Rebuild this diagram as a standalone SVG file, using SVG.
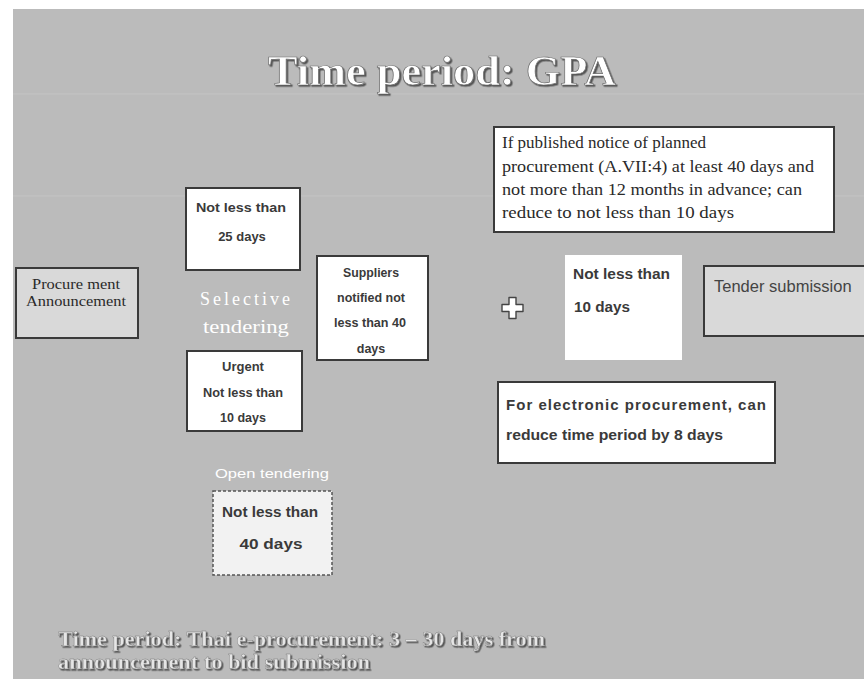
<svg xmlns="http://www.w3.org/2000/svg" width="864" height="679" viewBox="0 0 864 679">
<defs>
<filter id="sh" x="-5%" y="-20%" width="110%" height="140%">
<feDropShadow dx="1.5" dy="1.5" stdDeviation="0.6" flood-color="#4a4a4a" flood-opacity="0.9"/>
</filter>
<style>
.box{fill:#ffffff;stroke:#3a3a3a;stroke-width:2}
.gbox{fill:#d9d9d9;stroke:#3a3a3a;stroke-width:2}
.b{font-family:"Liberation Sans",Arial,sans-serif;font-weight:bold;fill:#3a3a3a}
.c{text-anchor:middle}
.s{font-family:"Liberation Serif","Times New Roman",serif;fill:#2a2a2a}
.w{font-family:"Liberation Serif","Times New Roman",serif;fill:#ffffff}
.title{font-family:"Liberation Serif","Times New Roman",serif;font-weight:bold;font-size:43px;fill:#ffffff;stroke:#6a6a6a;stroke-width:0.7;text-anchor:middle}
.foot{font-family:"Liberation Serif","Times New Roman",serif;font-weight:bold;font-size:21px;fill:#e6e6e6;stroke:#7a7a7a;stroke-width:0.4}
</style>
</defs>
<rect width="864" height="679" fill="#ffffff"/>
<rect x="13" y="9" width="851" height="670" fill="#bbbbbb"/>
<line x1="13" y1="94" x2="864" y2="94" stroke="#c4c4c4" stroke-width="1"/>
<line x1="13" y1="196" x2="864" y2="196" stroke="#c4c4c4" stroke-width="1"/>

<text x="442" y="85" class="title" filter="url(#sh)" textLength="348" lengthAdjust="spacingAndGlyphs">Time period: GPA</text>

<g id="procurement-announcement">
<rect x="16" y="268" width="122" height="70" class="gbox"/>
<text x="76" y="289" class="s c" font-size="14" textLength="88" lengthAdjust="spacingAndGlyphs">Procure ment</text>
<text x="76" y="306" class="s c" font-size="14" textLength="100" lengthAdjust="spacingAndGlyphs">Announcement</text>
</g>

<g id="selective-label">
<text x="245" y="305" class="w c" font-size="18" textLength="90" lengthAdjust="spacing">Selective</text>
<text x="246" y="333" class="w c" font-size="18" textLength="86" lengthAdjust="spacingAndGlyphs">tendering</text>
</g>

<g id="not-less-25">
<rect x="186" y="188" width="114" height="82" class="box"/>
<text x="241" y="212" class="b c" font-size="13" textLength="90" lengthAdjust="spacingAndGlyphs">Not less than</text>
<text x="242" y="241" class="b c" font-size="13">25 days</text>
</g>

<g id="urgent">
<rect x="187" y="351" width="115" height="80" class="box"/>
<text x="243" y="371" class="b c" font-size="13">Urgent</text>
<text x="243" y="397" class="b c" font-size="12.5" textLength="80" lengthAdjust="spacingAndGlyphs">Not less than</text>
<text x="243" y="422" class="b c" font-size="12.5">10 days</text>
</g>

<g id="suppliers-notified">
<rect x="317" y="256" width="111" height="104" class="box"/>
<text x="371" y="277" class="b c" font-size="12.5" textLength="56" lengthAdjust="spacingAndGlyphs">Suppliers</text>
<text x="371" y="302" class="b c" font-size="12.5" textLength="68" lengthAdjust="spacingAndGlyphs">notified not</text>
<text x="370" y="327" class="b c" font-size="12.5" textLength="72" lengthAdjust="spacingAndGlyphs">less than 40</text>
<text x="371" y="353" class="b c" font-size="12.5" font-weight="normal">days</text>
</g>

<g id="open-label">
<text x="272" y="478" class="c" font-family="'Liberation Sans',Arial,sans-serif" font-size="12" fill="#ffffff" textLength="114" lengthAdjust="spacingAndGlyphs">Open tendering</text>
</g>

<g id="open-tendering">
<rect x="213" y="491" width="119" height="84" fill="#f2f2f2" stroke="#555" stroke-width="1.5" stroke-dasharray="3,2"/>
<text x="270" y="517" class="b c" font-size="15" textLength="96" lengthAdjust="spacingAndGlyphs">Not less than</text>
<text x="271" y="549" class="b c" font-size="15" textLength="63" lengthAdjust="spacingAndGlyphs">40 days</text>
</g>

<g id="plus">
<path d="M509,297.5 h7 v7 h7 v7 h-7 v7 h-7 v-7 h-7 v-7 h7 z" fill="#ffffff" stroke="#444" stroke-width="1.4" stroke-linejoin="round"/>
</g>

<g id="gpa-notice">
<rect x="494" y="127" width="340" height="105" class="box"/>
<text x="502" y="148" class="s" font-size="17">If published notice of  planned</text>
<text x="502" y="172" class="s" font-size="17" textLength="312" lengthAdjust="spacingAndGlyphs">procurement (A.VII:4) at least 40 days and</text>
<text x="502" y="195" class="s" font-size="17" textLength="300" lengthAdjust="spacingAndGlyphs">not more than 12 months in advance; can</text>
<text x="502" y="218" class="s" font-size="17" textLength="232" lengthAdjust="spacingAndGlyphs">reduce to not less than 10 days</text>
</g>

<g id="not-less-10">
<rect x="565" y="255" width="117" height="105" fill="#ffffff"/>
<text x="573" y="279" class="b" font-size="14" textLength="97" lengthAdjust="spacingAndGlyphs">Not less than</text>
<text x="574" y="312" class="b" font-size="14" textLength="56" lengthAdjust="spacingAndGlyphs">10 days</text>
</g>

<g id="tender-submission">
<rect x="704" y="266" width="170" height="70" class="gbox"/>
<text x="714" y="292" font-family="'Liberation Sans',Arial,sans-serif" font-size="16.5" fill="#444">Tender submission</text>
</g>

<g id="electronic">
<rect x="498" y="382" width="277" height="81" class="box"/>
<text x="506" y="410" class="b" font-size="15" textLength="260" lengthAdjust="spacing">For electronic procurement, can</text>
<text x="506" y="440" class="b" font-size="15" textLength="217" lengthAdjust="spacingAndGlyphs">reduce time period by 8 days</text>
</g>

<g id="connectors"></g>

<g id="footer" filter="url(#sh)">
<text x="58" y="646" class="foot" textLength="487" lengthAdjust="spacingAndGlyphs">Time period: Thai e-procurement: 3 – 30 days from</text>
<text x="58" y="669" class="foot" textLength="312" lengthAdjust="spacingAndGlyphs">announcement to bid submission</text>
</g>
</svg>
